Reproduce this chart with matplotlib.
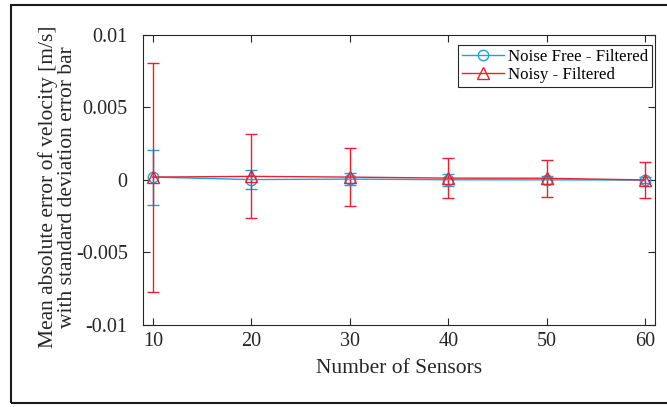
import numpy as np
import matplotlib.pyplot as plt
from matplotlib.patches import Rectangle
from matplotlib.lines import Line2D

plt.rcParams['font.family'] = ['Liberation Serif', 'DejaVu Serif']
plt.rcParams['mathtext.fontset'] = 'stix'

# 数据
sensors = [10, 20, 30, 40, 50, 60]
free_mean = [0.00020, 0.00003, 0.00006, 0.00002, 0.00001, 0.0]
free_std = [0.0019, 0.00066, 0.00042, 0.00042, 0.00030, 0.00020]
noisy_mean = [0.00020, 0.00025, 0.00020, 0.00013, 0.00012, 0.0]
noisy_std = [0.0079, 0.0029, 0.0020, 0.00137, 0.00127, 0.00127]
labels = ['Noise Free - Filtered', 'Noisy - Filtered']

blue = '#1ba3dd'
red = '#ee1f2c'

fig = plt.figure(figsize=(6.67, 4.07), dpi=100)
ax = fig.add_axes([0.2144, 0.2015, 0.7676, 0.7125])

ax.errorbar(sensors, free_mean, yerr=free_std, color=blue, marker='o', ms=7.5,
            mfc='none', mew=1.0, lw=1.0, capsize=4.5, elinewidth=1.0)
ax.errorbar(sensors, noisy_mean, yerr=noisy_std, color=red, marker='^', ms=8,
            mfc='none', mew=1.0, lw=1.0, capsize=4.5, elinewidth=1.0)

ax.set_xlim(9, 61)
ax.set_ylim(-0.01, 0.01)
ax.set_xticks(sensors)
ax.set_yticks([-0.01, -0.005, 0, 0.005, 0.01])
ax.set_yticklabels(['-0.01', '-0.005', '0', '0.005', '0.01'])
ax.tick_params(direction='in', top=True, right=True, labelsize=14.5, length=5,
               width=0.8, colors='#262626')
ax.tick_params(axis='y', pad=11)
ax.tick_params(axis='x', pad=5)
for s in ax.spines.values():
    s.set_color('#262626')
    s.set_linewidth(0.8)

ax.set_xlabel('Number of Sensors', fontsize=15.5, color='#262626', labelpad=6)
ax.set_ylabel('Mean absolute error of velocity [m/s]\nwith standard deviation error bar',
              fontsize=15.5, color='#262626', linespacing=1.0)
ax.yaxis.set_label_coords(-0.128, 0.476)

handles = [Line2D([], [], color=blue, marker='o', ms=7.5, mfc='none', lw=1.0),
           Line2D([], [], color=red, marker='^', ms=8, mfc='none', lw=1.0)]
leg = ax.legend(handles, labels, loc='upper right', fontsize=12.2, fancybox=False,
                framealpha=1, edgecolor='#262626', handlelength=2.5,
                borderpad=0.25, labelspacing=0.1, handletextpad=0.2,
                borderaxespad=0, bbox_to_anchor=(652 / 667, 1 - 45 / 407),
                bbox_transform=fig.transFigure)
leg.get_frame().set_linewidth(0.8)

# 外框
fig.patches.append(Rectangle((11 / 667, 4 / 407), 700 / 667, 398 / 407,
                             transform=fig.transFigure, fill=False,
                             edgecolor='#1a1a1a', lw=1.5))

fig.savefig('out.png', dpi=100)
